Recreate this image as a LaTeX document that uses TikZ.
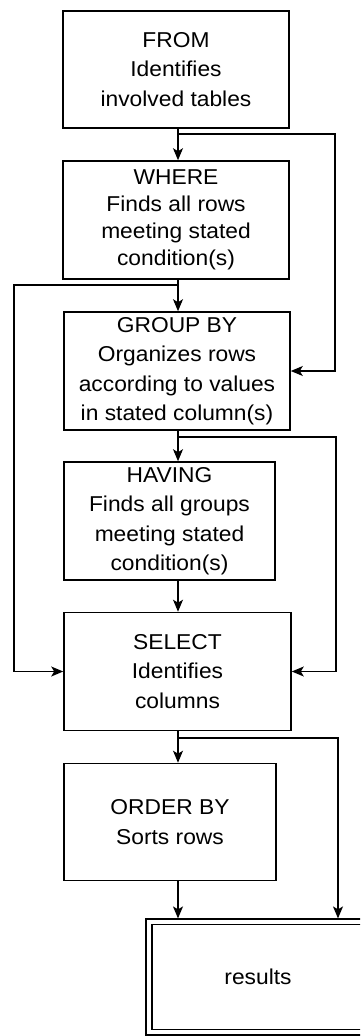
\documentclass[tikz,border=0pt]{standalone}
\usepackage{fontspec}
\setmainfont{Liberation Sans}[FakeStretch=1.06]
\usetikzlibrary{arrows.meta,calc}
\begin{document}
\begin{tikzpicture}[x=1pt,y=1pt,
  stepbox/.style={draw,line width=1.6pt,inner sep=0pt,align=center,
    font=\fontsize{21.5}{29.5}\selectfont},
  conn/.style={line width=1.2pt},
  arr/.style={conn,-{Stealth[length=12pt,width=10pt,inset=3pt]}}]
\useasboundingbox (0,0) rectangle (360,-1036);
\clip (0,0) rectangle (360,-1036);
\fill[white] (0,0) rectangle (360,-1036);
\node[stepbox,minimum width=226pt,minimum height=117pt] (from) at (176,-69.5)
  {FROM\\Identifies\\involved tables};
\node[stepbox,minimum width=226pt,minimum height=118pt,
  font=\fontsize{21.5}{27}\selectfont] (where) at (176,-220)
  {WHERE\\Finds all rows\\meeting stated\\condition(s)};
\node[stepbox,minimum width=226pt,minimum height=118pt] (group) at (177,-371)
  {GROUP BY\\Organizes rows\\according to values\\in stated column(s)};
\node[stepbox,minimum width=211pt,minimum height=118pt] (having) at (169.5,-521)
  {HAVING\\Finds all groups\\meeting stated\\condition(s)};
\node[stepbox,minimum width=227pt,minimum height=118pt] (select) at (177.5,-671.5)
  {SELECT\\Identifies\\columns};
\node[stepbox,minimum width=212pt,minimum height=117pt] (order) at (170,-822)
  {ORDER BY\\Sorts rows};
\node[draw,line width=1.2pt,minimum width=224pt,minimum height=116pt] (resout) at (258,-977) {};
\node[stepbox,line width=1.6pt,minimum width=212pt,minimum height=105pt] (res) at (258,-977) {results};
% column of the main arrows
\coordinate (ax) at (178,0);
% branch points and loop corners
\coordinate (b1) at (178,-134);
\coordinate (r1) at (335,-134);
\coordinate (b2) at (178,-285);
\coordinate (l2) at (14,-285);
\coordinate (b3) at (178,-437);
\coordinate (r3) at (336,-437);
\coordinate (b4) at (178,-738);
\coordinate (r4) at (338,-738);
\draw[arr] (from.south -| ax) -- (where.north -| ax);
\draw[arr] (where.south -| ax) -- (group.north -| ax);
\draw[arr] (group.south -| ax) -- (having.north -| ax);
\draw[arr] (having.south -| ax) -- (select.north -| ax);
\draw[arr] (select.south -| ax) -- (order.north -| ax);
\draw[arr] (order.south -| ax) -- (resout.north -| ax);
\draw[arr] (b1) -- (r1) |- (group.east);
\draw[arr] (b2) -- (l2) |- (select.west);
\draw[arr] (b3) -- (r3) |- (select.east);
\draw[arr] (b4) -- (r4) -- (r4 |- resout.north);
\end{tikzpicture}
\end{document}
